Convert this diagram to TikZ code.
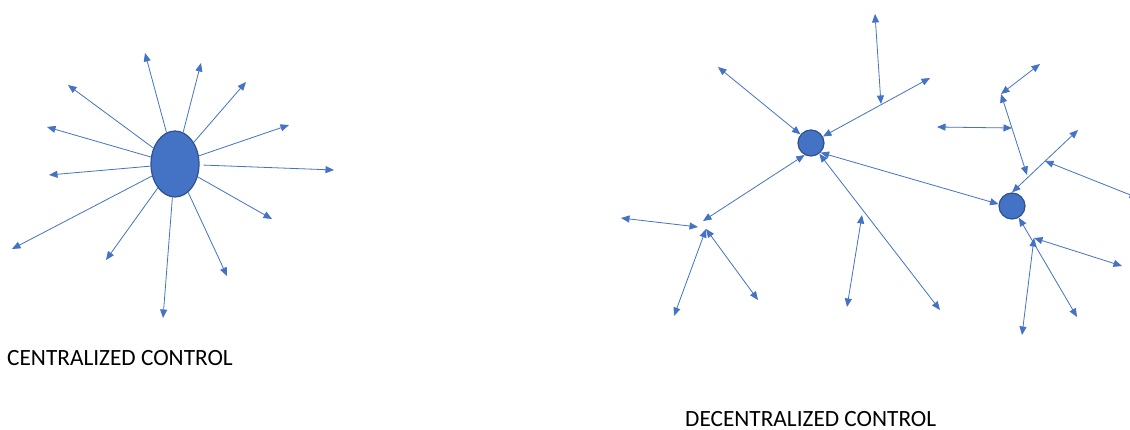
\documentclass[tikz,border=0pt]{standalone}
\usepackage{fontspec}
\setmainfont{Carlito}
\usetikzlibrary{arrows.meta,shapes.geometric}
\definecolor{obl}{HTML}{4472C4}
\definecolor{obd}{HTML}{2F528F}
\tikzset{
  conn/.style={draw=obl, line width=0.8pt, -{Triangle[length=8.5pt,width=7pt]}},
  bconn/.style={draw=obl, line width=0.8pt, {Triangle[length=8.5pt,width=7pt]}-{Triangle[length=8.5pt,width=7pt]}},
  hub/.style={ellipse, fill=obl, draw=obd, line width=1.2pt, inner sep=0pt, minimum width=48pt, minimum height=66pt},
  ctrl/.style={circle, fill=obl, draw=obd, line width=1.2pt, inner sep=0pt, minimum size=26pt},
  caption/.style={anchor=base west, inner sep=0pt, text depth=0pt, font=\fontsize{23.3}{27}\selectfont}
}
\begin{document}
\begin{tikzpicture}[x=1pt,y=-1pt]
\useasboundingbox (0,0) rectangle (1130,430);
\clip (0,0) rectangle (1130,430);
\fill[white] (0,0) rectangle (1130,430);
% ---------- centralized ----------
\node[hub] (C) at (175,164) {};
\coordinate (c1) at (145,53);
\coordinate (c2) at (201,63);
\coordinate (c3) at (246,82);
\coordinate (c4) at (289,125);
\coordinate (c5) at (334,170);
\coordinate (c6) at (272,219);
\coordinate (c7) at (227,276);
\coordinate (c8) at (163,318);
\coordinate (c9) at (106,260);
\coordinate (c10) at (12,249);
\coordinate (c11) at (49,175);
\coordinate (c12) at (47,127);
\coordinate (c13) at (68,85);
\foreach \i in {1,2,3,4,6,7,8,9,10,11,12,13} {\draw[conn] (C) -- (c\i);}
\draw[conn, shorten <=4pt] (C) -- (c5);
\node[caption] (t1) at (7,365) {CENTRALIZED CONTROL};
% ---------- decentralized ----------
\node[ctrl] (A) at (811,143) {};
\node[ctrl] (B) at (1012,206) {};
\coordinate (p1) at (718,67);
\coordinate (j1) at (703,221);
\coordinate (p2) at (621,218);
\coordinate (j1l) at (698,227);
\coordinate (j1b) at (706,229);
\coordinate (p3) at (674,316);
\coordinate (p4) at (758,300);
\coordinate (p5) at (940,310);
\coordinate (p6) at (862,215);
\coordinate (p7) at (847,307);
\coordinate (p8) at (930,78);
\coordinate (p9) at (875,14);
\coordinate (g1) at (881,104);
\coordinate (p10) at (937,127);
\coordinate (g2) at (1012,128);
\coordinate (p11) at (1040,64);
\coordinate (g3) at (1001,94);
\coordinate (p12) at (1027,175);
\coordinate (p13) at (1078,130);
\coordinate (p14) at (1138,198);
\coordinate (g4) at (1045,161);
\coordinate (p15) at (1077,317);
\coordinate (j2) at (1034,238);
\coordinate (p16) at (1122,266);
\coordinate (p17) at (1022,335);
\draw[bconn] (A) -- (p1);
\draw[bconn] (A.-118) -- (j1);
\draw[bconn] (p2) -- (j1l);
\draw[bconn] (p3) -- (j1b);
\draw[bconn] (p4) -- (j1b);
\draw[bconn] (A) -- (p5);
\draw[bconn] (p6) -- (p7);
\draw[bconn] (A) -- (p8);
\draw[bconn] (p9) -- (g1);
\draw[bconn] (A.-45) -- (B.172);
\draw[bconn] (p10) -- (g2);
\draw[bconn] (p11) -- (g3);
\draw[bconn] (g3) -- (p12);
\draw[bconn] (B.north) -- (p13);
\draw[bconn] (p14) -- (g4);
\draw[bconn] (B) -- (p15);
\draw[bconn] (p16) -- (j2);
\draw[bconn] (p17) -- (j2);
\node[caption] (t2) at (685,426) {DECENTRALIZED CONTROL};
\end{tikzpicture}
\end{document}
